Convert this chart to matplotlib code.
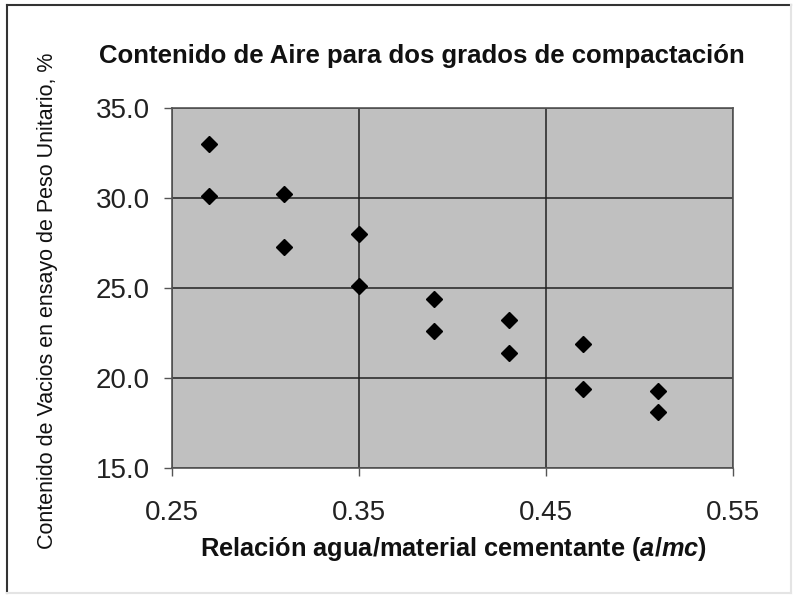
import matplotlib
matplotlib.use("Agg")
import matplotlib.pyplot as plt
from matplotlib.lines import Line2D

# relacion a/mc
x_amc = [0.27, 0.31, 0.35, 0.39, 0.43, 0.47, 0.51]
# dos grados de compactacion
vacios_a = [33.0, 30.2, 28.0, 24.4, 23.2, 21.9, 19.3]
vacios_b = [30.1, 27.3, 25.1, 22.6, 21.4, 19.4, 18.1]

x_ticks = [0.25, 0.35, 0.45, 0.55]
y_ticks = [15.0, 20.0, 25.0, 30.0, 35.0]

plt.rcParams['font.family'] = ['Liberation Sans', 'DejaVu Sans']
plt.rcParams['mathtext.fontset'] = 'custom'
plt.rcParams['mathtext.it'] = 'Liberation Sans:italic:bold'
plt.rcParams['mathtext.rm'] = 'Liberation Sans:bold'

fig = plt.figure(figsize=(7.95, 5.99), dpi=100)
ax = fig.add_axes([172 / 795, 1 - 468 / 599, (733 - 172) / 795, (468 - 108) / 599])
ax.set_facecolor('#c0c0c0')

ax.plot(x_amc, vacios_a, 'D', color='black', markersize=8, zorder=3)
ax.plot(x_amc, vacios_b, 'D', color='black', markersize=8, zorder=3)

ax.set_xlim(0.25, 0.55)
ax.set_ylim(15, 35)
ax.set_xticks(x_ticks)
ax.set_xticklabels(['%.2f' % t for t in x_ticks])
ax.set_yticks(y_ticks)
ax.set_yticklabels(['%.1f' % t for t in y_ticks])
ax.grid(True, color='#222222', linewidth=1.1)
ax.set_axisbelow(True)
ax.tick_params(axis='both', direction='out', length=6, width=1, color='#555555',
               labelsize=20, labelcolor='#222222')
ax.tick_params(axis='x', pad=17)
ax.tick_params(axis='y', pad=10)
for s in ax.spines.values():
    s.set_color('#555555')
    s.set_linewidth(1.2)

fig.text(422 / 795, 1 - 56 / 599, 'Contenido de Aire para dos grados de compactación',
         ha='center', va='center', fontsize=18.5, fontweight='bold', color='#111111')
fig.text(453 / 795, 1 - 549 / 599, 'Relación agua/material cementante ($\\it{a/mc}$)',
         ha='center', va='center', fontsize=18.3, fontweight='bold', color='#111111')
fig.text(48 / 795, 1 - 301 / 599, 'Contenido de Vacios en ensayo de Peso Unitario, %',
         ha='center', va='center', rotation=90, fontsize=15.5, color='#111111')

# marco exterior: oscuro arriba/izquierda, claro abajo/derecha
fig.lines.append(Line2D([7 / 795, 7 / 795], [1 - 593 / 599, 1 - 5 / 599], transform=fig.transFigure,
                        color='#333333', linewidth=1.5))
fig.lines.append(Line2D([7 / 795, 791 / 795], [1 - 5 / 599, 1 - 5 / 599], transform=fig.transFigure,
                        color='#333333', linewidth=1.5))
fig.lines.append(Line2D([791 / 795, 791 / 795], [1 - 593 / 599, 1 - 5 / 599], transform=fig.transFigure,
                        color='#e4e4e4', linewidth=1.5))
fig.lines.append(Line2D([7 / 795, 791 / 795], [1 - 593 / 599, 1 - 593 / 599], transform=fig.transFigure,
                        color='#e4e4e4', linewidth=1.5))

fig.savefig('out.png', dpi=100)
